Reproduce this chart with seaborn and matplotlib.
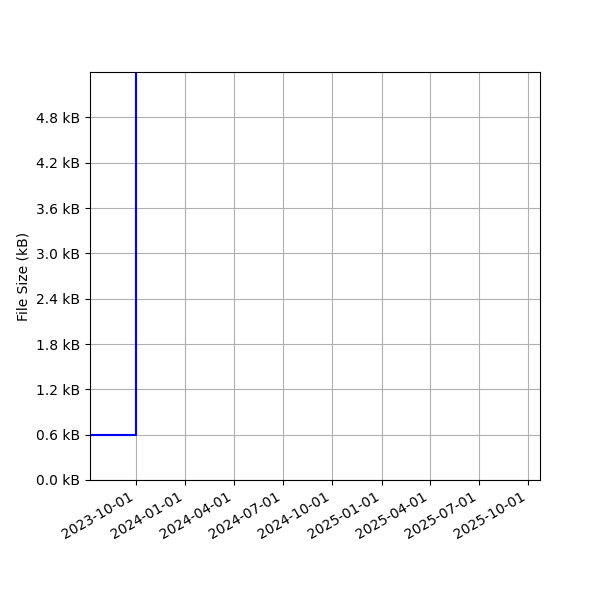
import matplotlib
matplotlib.use("Agg")
import matplotlib.pyplot as plt
import matplotlib.ticker as mticker
import matplotlib.dates as mdates
import seaborn as sns
import pandas as pd

# file size history (kB)
dates = ["2023-07-08", "2023-10-01", "2025-10-23"]
sizes_kb = [0.6, 60.0, 60.0]
ytick_values = [0.0, 0.6, 1.2, 1.8, 2.4, 3.0, 3.6, 4.2, 4.8]
x_limits = ["2023-07-08", "2025-10-23"]
y_limits = [0.0, 5.4]

df = pd.DataFrame({"date": pd.to_datetime(dates), "size": sizes_kb})

fig, ax = plt.subplots(figsize=(6, 6), dpi=100)
sns.lineplot(data=df, x="date", y="size", ax=ax, color="blue",
             drawstyle="steps-post", linewidth=1.5)

ax.set_xlim(pd.to_datetime(x_limits[0]), pd.to_datetime(x_limits[1]))
ax.set_ylim(*y_limits)
ax.set_yticks(ytick_values)
ax.yaxis.set_major_formatter(mticker.FuncFormatter(lambda v, p: f"{v:.1f} kB"))
ax.xaxis.set_major_locator(mdates.MonthLocator(bymonth=[1, 4, 7, 10]))
ax.xaxis.set_major_formatter(mdates.DateFormatter("%Y-%m-%d"))
ax.set_ylabel("File Size (kB)")
ax.set_xlabel("")
ax.grid(True, color="#b0b0b0")
fig.autofmt_xdate()
fig.subplots_adjust(left=0.15, right=0.9, top=0.88, bottom=0.2)

fig.savefig("out.png", dpi=100)
